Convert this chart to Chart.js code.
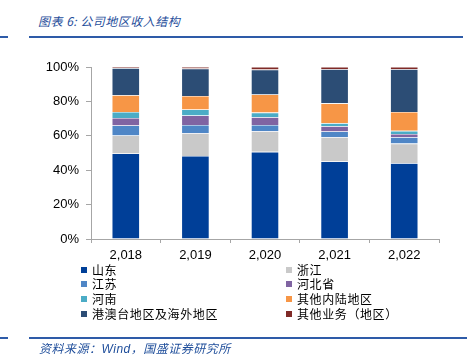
<!DOCTYPE html>
<html>
<head>
<meta charset="utf-8">
<script src="https://cdn.jsdelivr.net/npm/chart.js@4/dist/chart.umd.min.js"></script>
<style>
    body { margin: 0; background: #fff; }
    #wrap { position: relative; width: 471px; height: 363px; overflow: hidden; }
    #chart { position: absolute; left: 0; top: 0; }
    .title { position: absolute; left: 38px; top: 12px; font: italic 12px "Noto Sans CJK SC", sans-serif; color: #1f4e9b; letter-spacing: 0.5px; }
    .rule { position: absolute; height: 2px; background: #2e5ba8; }
    .src { position: absolute; left: 39px; top: 339px; font: italic 12px "Noto Sans CJK SC", sans-serif; color: #1f4e9b; letter-spacing: 0.5px; }
    .src b { font-family: "Liberation Sans", sans-serif; font-weight: normal; }
    .leg { position: absolute; font: 12px "Noto Sans CJK SC", sans-serif; color: #000; letter-spacing: 0.6px; line-height: 14px; white-space: nowrap; }
    .leg i { position: absolute; left: -11px; top: 4px; width: 6px; height: 6px; }
</style>
</head>
<body>
<div id="wrap">
    <div class="title">图表 6: 公司地区收入结构</div>
    <div class="rule" style="left:0;width:8px;top:36px"></div>
    <div class="rule" style="left:29px;width:434px;top:36px"></div>
    <canvas id="chart" width="471" height="363"></canvas>
    <div id="legend"></div>
    <div class="rule" style="left:0;width:8px;top:337px"></div>
    <div class="rule" style="left:29px;width:438px;top:337px"></div>
    <div class="src">资料来源：<b>Wind</b>，国盛证券研究所</div>
</div>
<script>
"use strict";
// categories (years)
const years = ['2,018', '2,019', '2,020', '2,021', '2,022'];

// revenue share by region, %
const shandong    = [49.7, 48.3, 50.7, 45.1, 44.1];
const zhejiang    = [10.5, 13.2, 12.0, 14.1, 11.4];
const jiangsu     = [5.8, 4.8, 3.6, 3.3, 3.7];
const hebei       = [4.4, 5.5, 4.5, 3.1, 1.9];
const henan       = [3.5, 3.5, 2.7, 1.7, 1.8];
const other_inland = [9.7, 7.9, 10.5, 11.6, 11.0];
const hk_overseas = [15.8, 15.9, 14.5, 19.8, 24.8];
const other_biz   = [0.6, 0.9, 1.5, 1.3, 1.3];

const y_ticks = [0, 20, 40, 60, 80, 100];

const series = [
    ['山东', shandong, '#003f98'],
    ['浙江', zhejiang, '#c9c9c9'],
    ['江苏', jiangsu, '#4f86c6'],
    ['河北省', hebei, '#8064a2'],
    ['河南', henan, '#4bacc6'],
    ['其他内陆地区', other_inland, '#f79646'],
    ['港澳台地区及海外地区', hk_overseas, '#2c4d75'],
    ['其他业务（地区）', other_biz, '#7f2a27'],
];

const axis_color = '#a6a6a6';
const tick_font = { family: 'Liberation Sans', size: 13 };

const chart = new Chart(document.getElementById('chart').getContext('2d'), {
    type: 'bar',
    data: {
        labels: years,
        datasets: series.map(([name, vals, color]) => ({
            label: name,
            data: vals,
            backgroundColor: color,
            borderColor: 'rgba(255,255,255,0.35)',
            borderWidth: 0.6,
            barPercentage: 0.4,
            categoryPercentage: 1.0,
        })),
    },
    options: {
        responsive: false,
        animation: false,
        devicePixelRatio: 1,
        layout: { padding: { top: 67, right: 32, bottom: 100, left: 0 } },
        plugins: { legend: { display: false }, tooltip: { enabled: false } },
        scales: {
            x: {
                stacked: true,
                grid: { display: true, offset: true, drawOnChartArea: false, drawTicks: true, tickLength: 4, color: axis_color },
                border: { display: true, color: axis_color },
                ticks: { color: '#000', font: tick_font, padding: 5, maxRotation: 0 },
                afterFit: (s) => { s.height = 24; },
            },
            y: {
                stacked: true,
                min: 0,
                max: 100,
                afterBuildTicks: (s) => { s.ticks = y_ticks.map((v) => ({ value: v })); },
                grid: { display: true, drawOnChartArea: false, drawTicks: true, tickLength: 5, color: axis_color },
                border: { display: true, color: axis_color },
                ticks: { color: '#000', font: tick_font, padding: 7, callback: (v) => v + '%' },
                afterFit: (s) => { s.width = 91; },
            },
        },
    },
});

// legend in two columns, built from the chart's datasets
const legend = document.getElementById('legend');
const col_x = [92, 297];
const row_y = [263, 277, 292, 307];
chart.data.datasets.forEach((ds, i) => {
    const el = document.createElement('div');
    el.className = 'leg';
    el.style.left = col_x[i % 2] + 'px';
    el.style.top = row_y[Math.floor(i / 2)] + 'px';
    el.innerHTML = '<i style="background:' + ds.backgroundColor + '"></i>' + ds.label;
    legend.appendChild(el);
});
</script>
</body>
</html>
